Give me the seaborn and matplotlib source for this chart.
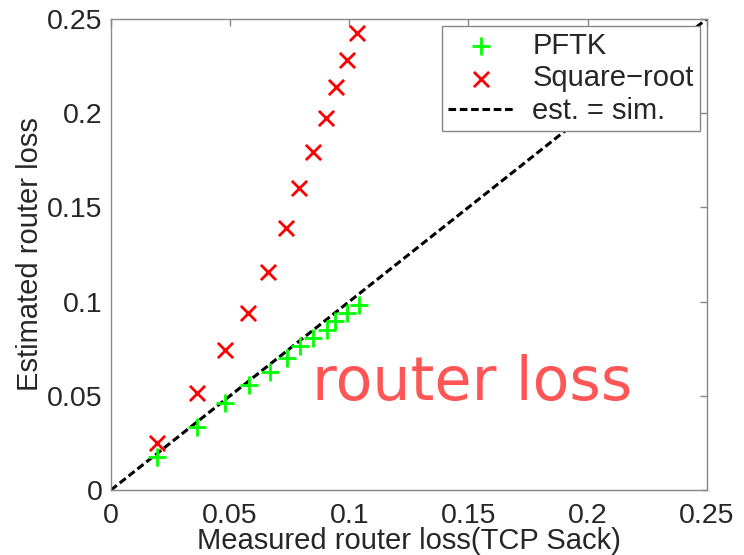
import numpy as np
import pandas as pd
import matplotlib
matplotlib.use("Agg")
import matplotlib.pyplot as plt
import seaborn as sns

# measured loss (x) and estimates
pftk_x = [0.0192, 0.0360, 0.0479, 0.0580, 0.0668, 0.0738, 0.0794, 0.0850, 0.0906, 0.0941, 0.0990, 0.1039]
pftk_y = [0.0177, 0.0337, 0.0461, 0.0559, 0.0629, 0.0700, 0.0762, 0.0807, 0.0851, 0.0895, 0.0940, 0.0984]
sqrt_x = [0.0192, 0.0360, 0.0479, 0.0577, 0.0661, 0.0734, 0.0791, 0.0850, 0.0902, 0.0944, 0.0990, 0.1032]
sqrt_y = [0.0248, 0.0514, 0.0745, 0.0940, 0.1158, 0.1388, 0.1601, 0.1796, 0.1972, 0.2137, 0.2284, 0.2424]
diag = [0.0, 0.25]
ticks = [0, 0.05, 0.1, 0.15, 0.2, 0.25]
tick_labels = ["0", "0.05", "0.1", "0.15", "0.2", "0.25"]

sns.set_style("white")
plt.rcParams["font.family"] = ["Liberation Sans", "DejaVu Sans"]

fig = plt.figure(figsize=(7.44, 5.55), dpi=100)
ax = fig.add_axes([0.149, 0.117, 0.801, 0.849])

pftk = pd.DataFrame({"x": pftk_x, "y": pftk_y})
sqrt = pd.DataFrame({"x": sqrt_x, "y": sqrt_y})
line = pd.DataFrame({"x": diag, "y": diag})

sns.scatterplot(data=pftk, x="x", y="y", marker="+", s=170, color="#00ff00",
                linewidth=2, label="PFTK", ax=ax, zorder=3)
sns.scatterplot(data=sqrt, x="x", y="y", marker="x", s=120, color="#ff0000",
                linewidth=2, label="Square\u2212root", ax=ax, zorder=3)
ax.plot(line["x"], line["y"], color="black", linestyle=(0, (2.5, 1.2)),
        linewidth=2.2, label="est. = sim.", zorder=2)

ax.set_xlim(0, 0.25)
ax.set_ylim(0, 0.25)
ax.set_xticks(ticks)
ax.set_xticklabels(tick_labels)
ax.set_yticks(ticks)
ax.set_yticklabels(tick_labels)
ax.tick_params(direction="in", length=5, width=1, color="#888888",
               labelsize=20.5, top=True, right=True)
ax.tick_params(axis="x", pad=9)
ax.tick_params(axis="y", pad=6)
for sp in ax.spines.values():
    sp.set_color("#888888")
    sp.set_linewidth(1)

ax.set_xlabel("Measured router loss(TCP Sack)", fontsize=21, labelpad=-1)
ax.set_ylabel("Estimated router loss", fontsize=21, labelpad=2)

leg = ax.legend(loc="upper right", fontsize=21, frameon=True, fancybox=False,
                framealpha=1, borderpad=0.2, handlelength=2.3, labelspacing=0.15,
                borderaxespad=0.25, handletextpad=0.6)
leg.get_frame().set_edgecolor("#888888")
leg.get_frame().set_linewidth(1)

ax.text(0.0845, 0.0479, "router loss", color="#ff5555", fontsize=43.5,
        family=["DejaVu Sans"], ha="left", va="baseline")

fig.savefig("out.png", dpi=100)
